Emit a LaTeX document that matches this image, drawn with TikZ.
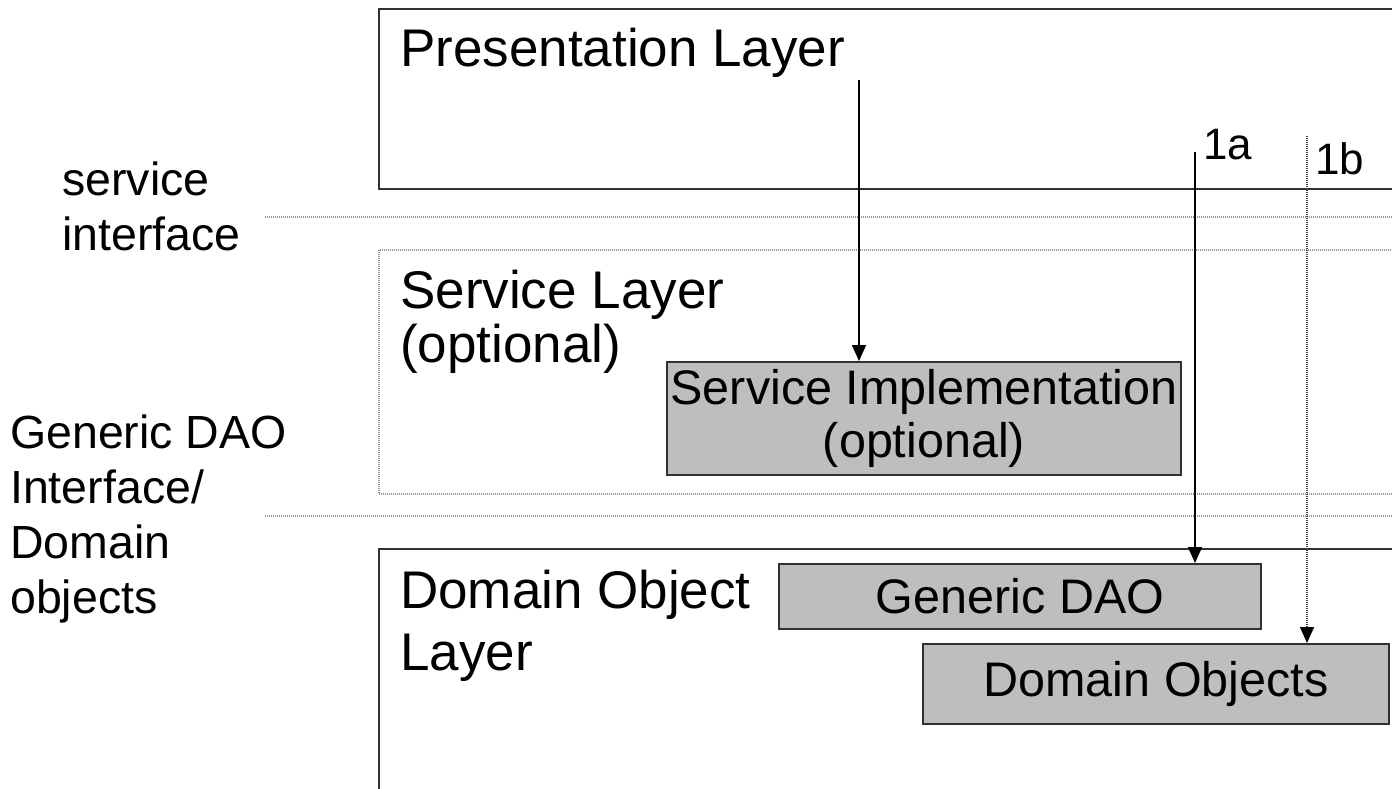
\documentclass[tikz,border=0pt]{standalone}
\usepackage{fontspec}
\setmainfont{Liberation Sans}
\usetikzlibrary{arrows.meta}

\definecolor{boxgray}{RGB}{190,190,190}
\definecolor{boxedge}{RGB}{50,50,50}
\definecolor{sepgray}{RGB}{150,150,150}

\newcommand\layerfont{\fontsize{53}{54}\selectfont}
\newcommand\widelayerfont{\fontsize{53}{62}\selectfont}
\newcommand\boxfont{\fontsize{48.5}{53}\selectfont}
\newcommand\sidefont{\fontsize{46.5}{55}\selectfont}
\newcommand\tagfont{\fontsize{44}{48}\selectfont}

\begin{document}
\begin{tikzpicture}[x=1pt,y=-1pt,
  layerbox/.style={draw=boxedge, line width=2pt, anchor=north west, inner sep=0pt},
  optlayer/.style={draw=sepgray, line width=1.6pt, dash pattern=on 1pt off 1pt,
    anchor=north west, inner sep=0pt},
  partbox/.style={draw=boxedge, line width=2pt, fill=boxgray, anchor=north west,
    inner sep=0pt, align=center, font=\boxfont},
  sepline/.style={draw=sepgray, line width=2pt, dash pattern=on 1pt off 1pt},
  title/.style={anchor=base west, inner sep=0pt, align=left, font=\layerfont},
  side/.style={anchor=base west, inner sep=0pt, align=left, font=\sidefont},
  tag/.style={anchor=base west, inner sep=0pt, font=\tagfont},
  callarrow/.style={draw=black, line width=1.6pt, -{Triangle[width=14pt,length=16pt]}},
  optarrow/.style={draw=black!75, line width=1.4pt, dash pattern=on 1pt off 1pt,
    -{Triangle[width=14pt,length=16pt,color=black,fill=black]}},
]
\useasboundingbox (0,0) rectangle (1392,789);

% layer frames (they run past the right and bottom edges)
\node[layerbox, minimum width=1100, minimum height=180] (pres) at (378,8) {};
\node[optlayer, minimum width=1100, minimum height=244] (svclayer) at (378,249) {};
\node[layerbox, minimum width=1100, minimum height=320] (domlayer) at (378,548) {};

% interface separators
\coordinate (s1a) at (265,217);
\coordinate (s1b) at (1400,217);
\coordinate (s2a) at (265,516);
\coordinate (s2b) at (1400,516);
\draw[sepline] (s1a) -- (s1b);
\draw[sepline] (s2a) -- (s2b);

% layer titles (base anchor sits on the last line)
\node[title] (prestitle) at (400,67) {Presentation Layer};
\node[title] (svctitle) at (400,362) {Service Layer\\(optional)};
\node[title, font=\widelayerfont] (domtitle) at (400,670) {Domain Object\\Layer};

% side labels
\node[side] (svciface) at (62,250) {service\\interface};
\node[side] (daoiface) at (10,613) {Generic DAO\\Interface/\\Domain\\objects};

% components
\node[partbox, minimum width=514, minimum height=113] (impl) at (666,361)
  {Service Implementation\\(optional)};
\node[partbox, minimum width=482, minimum height=65] (gdao) at (778,563) {Generic DAO};
\node[partbox, minimum width=466, minimum height=80] (dobj) at (922,643) {Domain Objects};

% calls
\coordinate (p0) at (859,80);
\draw[callarrow] (p0) -- (p0 |- impl.north);
\coordinate (a0) at (1195,152);
\draw[callarrow] (a0) -- (a0 |- gdao.north);
\coordinate (b0) at (1307,136);
\draw[optarrow] (b0) -- (b0 |- dobj.north);

\node[tag] (tag1a) at (1203,160) {1a};
\node[tag] (tag1b) at (1315,175) {1b};
\end{tikzpicture}
\end{document}
